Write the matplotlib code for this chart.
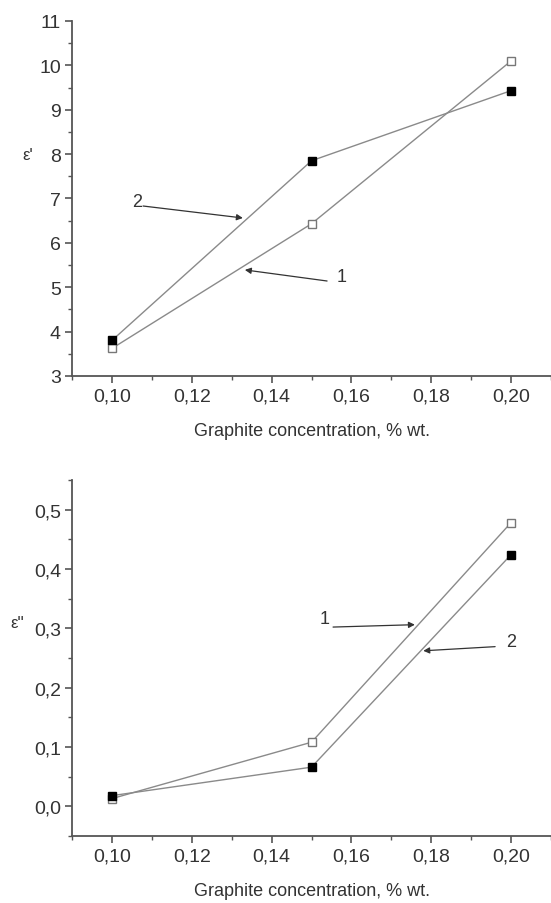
"""Graphite concentration vs. dielectric permittivity (ε', ε'')."""

import matplotlib

matplotlib.use("Agg")
import matplotlib.pyplot as plt
from matplotlib.ticker import FuncFormatter, MultipleLocator

plt.rcParams["font.family"] = ["Liberation Sans", "DejaVu Sans"]

# 데이터: 곡선 1 = 빈 사각형, 곡선 2 = 채운 사각형
concentration = [0.10, 0.15, 0.20]
eps_real_1 = [3.62, 6.43, 10.10]
eps_real_2 = [3.80, 7.85, 9.43]
eps_imag_1 = [0.013, 0.108, 0.478]
eps_imag_2 = [0.018, 0.066, 0.424]

XLABEL = "Graphite concentration, % wt."
LINE_COLOR = "#8a8a8a"
TEXT_COLOR = "#333333"


def comma(v, _pos, digits):
    return f"{v:.{digits}f}".replace(".", ",")


def style_axes(ax, ymajor, yminor, ydigits):
    for side in ("top", "right"):
        ax.spines[side].set_visible(False)
    for side in ("left", "bottom"):
        ax.spines[side].set_color("#555555")
        ax.spines[side].set_linewidth(1.3)
    ax.set_xlim(0.09, 0.21)
    ax.xaxis.set_major_locator(MultipleLocator(0.02))
    ax.xaxis.set_minor_locator(MultipleLocator(0.01))
    ax.yaxis.set_major_locator(MultipleLocator(ymajor))
    ax.yaxis.set_minor_locator(MultipleLocator(yminor))
    ax.xaxis.set_major_formatter(FuncFormatter(lambda v, p: comma(v, p, 2)))
    ax.yaxis.set_major_formatter(FuncFormatter(lambda v, p: comma(v, p, ydigits)))
    ax.tick_params(which="major", length=5, width=1.2, color="#555555",
                   labelsize=14, labelcolor=TEXT_COLOR, pad=3)
    ax.tick_params(which="minor", length=3, width=1.0, color="#555555")
    ax.set_xlabel(XLABEL, fontsize=13, color=TEXT_COLOR, labelpad=13)


def draw_series(ax, y1, y2):
    ax.plot(concentration, y1, color=LINE_COLOR, lw=1.0, marker="s", ms=6,
            mfc="white", mec="#777777", mew=1.0, clip_on=False)
    ax.plot(concentration, y2, color=LINE_COLOR, lw=1.0, marker="s", ms=6,
            mfc="black", mec="black", mew=1.0, clip_on=False)


def label_arrow(ax, text, text_xy, tail_xy, head_xy):
    ax.text(*text_xy, text, fontsize=13, color=TEXT_COLOR, ha="center", va="center")
    ax.annotate("", xy=head_xy, xytext=tail_xy,
                arrowprops=dict(arrowstyle="-|>", color=TEXT_COLOR, lw=0.9,
                                mutation_scale=9, shrinkA=0, shrinkB=0))


fig = plt.figure(figsize=(5.51, 9.04), dpi=100)

# 위쪽: ε'
ax1 = fig.add_axes([0.1307, 0.583, 0.8693, 0.3927])
draw_series(ax1, eps_real_1, eps_real_2)
style_axes(ax1, 1, 0.5, 0)
ax1.set_ylim(3, 11)
ax1.text(-0.092, 0.625, "ε'", transform=ax1.transAxes, fontsize=12,
         color=TEXT_COLOR, ha="center", va="center")
label_arrow(ax1, "2", (0.1063, 6.94), (0.1078, 6.83), (0.1328, 6.56))
label_arrow(ax1, "1", (0.1576, 5.25), (0.1539, 5.14), (0.1333, 5.39))

# 아래쪽: ε''
ax2 = fig.add_axes([0.1307, 0.0741, 0.8693, 0.394])
draw_series(ax2, eps_imag_1, eps_imag_2)
style_axes(ax2, 0.1, 0.05, 1)
ax2.set_ylim(-0.05, 0.55)
ax2.text(-0.115, 0.60, "ε''", transform=ax2.transAxes, fontsize=12,
         color=TEXT_COLOR, ha="center", va="center")
label_arrow(ax2, "1", (0.1534, 0.316), (0.1554, 0.302), (0.1759, 0.306))
label_arrow(ax2, "2", (0.2000, 0.277), (0.1960, 0.269), (0.1780, 0.262))

fig.savefig("out.png", dpi=100, facecolor="white")
plt.close(fig)
